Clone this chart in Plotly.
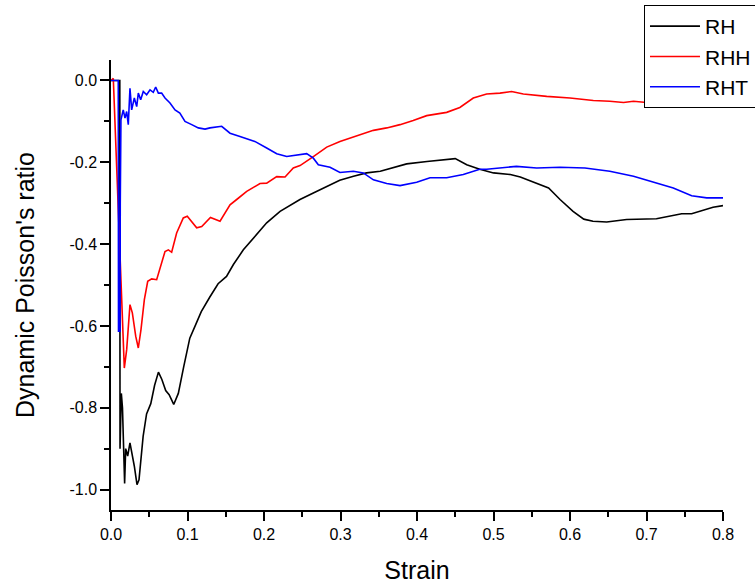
import plotly.graph_objects as go

# ---- data ----
x_rh = [0.000, 0.0115, 0.0118, 0.0135, 0.0150, 0.0165, 0.0178, 0.0192, 0.0218, 0.0248,
        0.0272, 0.0305, 0.0340, 0.0366, 0.0420, 0.0465, 0.0520, 0.0570, 0.0620, 0.0665,
        0.0715, 0.0760, 0.0820, 0.0880, 0.0950, 0.1030, 0.1100, 0.1180, 0.1290, 0.1400,
        0.1510, 0.1600, 0.1730, 0.1860, 0.2035, 0.2210, 0.2470, 0.2645, 0.2820, 0.2990,
        0.3170, 0.3340, 0.3520, 0.3690, 0.3865, 0.4130, 0.4300, 0.4500, 0.4650, 0.4820,
        0.5000, 0.5220, 0.5350, 0.5520, 0.5720, 0.5870, 0.6040, 0.6180, 0.6300, 0.6480,
        0.6740, 0.7130, 0.7310, 0.7460, 0.7590, 0.7700, 0.7870, 0.8000]
y_rh = [0.000, 0.000, -0.900, -0.765, -0.800, -0.900, -0.985, -0.900, -0.918, -0.886,
        -0.910, -0.943, -0.988, -0.976, -0.870, -0.815, -0.790, -0.745, -0.713, -0.731,
        -0.758, -0.768, -0.792, -0.765, -0.700, -0.630, -0.600, -0.565, -0.530, -0.497,
        -0.479, -0.450, -0.414, -0.385, -0.348, -0.320, -0.291, -0.275, -0.259, -0.244,
        -0.234, -0.226, -0.222, -0.214, -0.204, -0.198, -0.195, -0.191, -0.206, -0.217,
        -0.226, -0.230, -0.236, -0.249, -0.263, -0.291, -0.320, -0.339, -0.344, -0.346,
        -0.340, -0.338, -0.332, -0.326, -0.326, -0.320, -0.310, -0.306]

x_rhh = [0.000, 0.002, 0.003, 0.0174, 0.0205, 0.0248, 0.0279, 0.0323, 0.0357, 0.0392,
         0.0436, 0.0480, 0.0532, 0.0597, 0.0640, 0.0706, 0.0750, 0.0793, 0.0858, 0.0945,
         0.0997, 0.1060, 0.1120, 0.1186, 0.1300, 0.1425, 0.1556, 0.1643, 0.1774, 0.1948,
         0.2035, 0.2166, 0.2275, 0.2383, 0.2471, 0.2645, 0.2820, 0.2993, 0.3168, 0.3430,
         0.3604, 0.3778, 0.3950, 0.4127, 0.4388, 0.4560, 0.4736, 0.4910, 0.5085, 0.5237,
         0.5390, 0.5695, 0.6000, 0.6305, 0.6520, 0.6700, 0.6830, 0.7068, 0.7220, 0.7440,
         0.7700, 0.8000]
y_rhh = [0.000, 0.002, 0.005, -0.703, -0.658, -0.548, -0.568, -0.625, -0.654, -0.609,
         -0.536, -0.491, -0.485, -0.487, -0.462, -0.418, -0.414, -0.420, -0.373, -0.336,
         -0.332, -0.345, -0.360, -0.357, -0.335, -0.344, -0.304, -0.291, -0.271, -0.252,
         -0.251, -0.235, -0.236, -0.214, -0.208, -0.186, -0.163, -0.149, -0.138, -0.122,
         -0.116, -0.108, -0.098, -0.086, -0.078, -0.066, -0.043, -0.033, -0.031, -0.027,
         -0.033, -0.039, -0.043, -0.049, -0.051, -0.054, -0.051, -0.055, -0.051, -0.045,
         -0.037, -0.032]

x_rht = [0.000, 0.0095, 0.0098, 0.0118, 0.0121, 0.0130, 0.0160, 0.0183, 0.0205, 0.0226,
         0.0248, 0.0270, 0.0305, 0.0336, 0.0357, 0.0388, 0.0422, 0.0466, 0.0510, 0.0553,
         0.0584, 0.0619, 0.0662, 0.0706, 0.0771, 0.0837, 0.0900, 0.0967, 0.1055, 0.1141,
         0.1229, 0.1294, 0.1447, 0.1556, 0.1686, 0.1817, 0.1880, 0.2035, 0.2166, 0.2297,
         0.2427, 0.2558, 0.2645, 0.2710, 0.2863, 0.2993, 0.3168, 0.3298, 0.3430, 0.3604,
         0.3778, 0.3996, 0.4170, 0.4388, 0.4605, 0.4820, 0.4910, 0.5300, 0.5565, 0.5870,
         0.6196, 0.6520, 0.6830, 0.7090, 0.7350, 0.7590, 0.7787, 0.8000]
y_rht = [0.000, 0.000, -0.613, -0.613, -0.300, -0.096, -0.072, -0.092, -0.076, -0.108,
         -0.019, -0.072, -0.043, -0.064, -0.031, -0.047, -0.027, -0.035, -0.023, -0.029,
         -0.016, -0.031, -0.031, -0.043, -0.055, -0.072, -0.080, -0.100, -0.108, -0.116,
         -0.119, -0.116, -0.112, -0.129, -0.137, -0.145, -0.149, -0.165, -0.179, -0.186,
         -0.182, -0.179, -0.190, -0.206, -0.212, -0.225, -0.222, -0.226, -0.243, -0.252,
         -0.257, -0.249, -0.238, -0.238, -0.230, -0.217, -0.217, -0.210, -0.214, -0.212,
         -0.214, -0.222, -0.234, -0.249, -0.263, -0.282, -0.287, -0.287]

series_names = ["RH", "RHH", "RHT"]
series_colors = ["#000000", "#ff0000", "#0000ff"]

x_tickvals = [0.0, 0.1, 0.2, 0.3, 0.4, 0.5, 0.6, 0.7, 0.8]
x_ticktext = ["0.0", "0.1", "0.2", "0.3", "0.4", "0.5", "0.6", "0.7", "0.8"]
y_tickvals = [0.0, -0.2, -0.4, -0.6, -0.8, -1.0]
y_ticktext = ["0.0", "-0.2", "-0.4", "-0.6", "-0.8", "-1.0"]

FONT = "Arial, 'Liberation Sans', sans-serif"

fig = go.Figure()
for xs, ys, name, col in zip([x_rh, x_rhh, x_rht], [y_rh, y_rhh, y_rht],
                             series_names, series_colors):
    fig.add_trace(go.Scatter(x=xs, y=ys, mode="lines", name=name,
                             line=dict(color=col, width=1.6)))

axis_common = dict(showgrid=False, zeroline=False, showline=True, linecolor="black",
                   linewidth=1.5, ticks="outside", ticklen=9, tickwidth=1.5,
                   tickcolor="black", tickfont=dict(family=FONT, size=16, color="black"),
                   mirror=False)

fig.update_layout(
    width=755, height=585,
    margin=dict(l=111, r=32, t=60, b=75, autoexpand=False),
    paper_bgcolor="white", plot_bgcolor="white",
    font=dict(family=FONT, color="black"),
    xaxis=dict(range=[0, 0.8], tickmode="array", tickvals=x_tickvals, ticktext=x_ticktext,
               minor=dict(tickmode="linear", tick0=0, dtick=0.05, ticks="outside",
                          ticklen=5, tickwidth=1.5, tickcolor="black"),
               title=dict(text="Strain", font=dict(family=FONT, size=25), standoff=20),
               **axis_common),
    yaxis=dict(range=[-1.05, 0.05], tickmode="array", tickvals=y_tickvals, ticktext=y_ticktext,
               minor=dict(tickmode="linear", tick0=0, dtick=0.1, ticks="outside",
                          ticklen=5, tickwidth=1.5, tickcolor="black"),
               title=dict(text="Dynamic Poisson's ratio", font=dict(family=FONT, size=25),
                          standoff=28),
               **axis_common),
    legend=dict(x=0.8709, y=1.1222, xanchor="left", yanchor="top",
                bordercolor="black", borderwidth=1, bgcolor="white",
                font=dict(family=FONT, size=21, color="black"),
                itemwidth=50, tracegroupgap=0),
    showlegend=True,
)

fig.write_html("out.html")
